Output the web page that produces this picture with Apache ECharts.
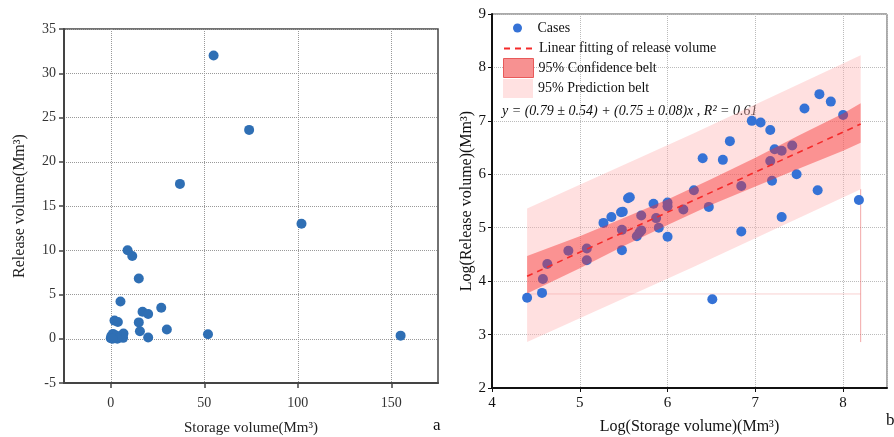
<!DOCTYPE html>
<html>
<head>
<meta charset="utf-8">
<script src="https://cdn.jsdelivr.net/npm/echarts@6/dist/echarts.min.js"></script>
<style>
  html, body { margin: 0; padding: 0; background: #fff; }
  #chart { width: 894px; height: 437px; }
</style>
</head>
<body>
<div id="chart"></div>
<script>
// Panel a: storage vs. release volume of the cases (Mm³)
const storageVolume = [55, 74, 37, 102, 9, 11.5, 15, 5.2, 27, 17, 20, 2, 3.8, 15, 30, 15.6, 52, 155, 20, 6.8, 6.6, 0, 0.3, 1.2, 2, 3, 3.5, 1];
const releaseVolume = [32.0, 23.6, 17.5, 13.0, 10.0, 9.35, 6.8, 4.2, 3.5, 3.05, 2.8, 2.05, 1.9, 1.85, 1.05, 0.85, 0.5, 0.35, 0.15, 0.6, 0.1, 0.05, 0.3, 0.55, 0.15, 0.35, 0.0, 0.0];
const storageTicks = [0, 50, 100, 150];

// Panel b: log-transformed volumes
const logStorage = [4.40, 4.57, 4.58, 4.63, 4.87, 5.08, 5.08, 5.27, 5.36, 5.47, 5.49, 5.55, 5.57, 5.48, 5.48, 5.70, 5.65, 5.68, 5.70, 5.84,
                    5.87, 5.90, 6.00, 6.00, 6.00, 6.18, 6.30, 6.40, 6.47, 6.51, 6.63, 6.71, 6.84, 6.84, 6.96, 7.06, 7.17, 7.17, 7.19, 7.22,
                    7.30, 7.30, 7.42, 7.47, 7.56, 7.71, 7.73, 7.86, 8.00, 8.18];
const logRelease = [3.69, 3.78, 4.04, 4.32, 4.57, 4.61, 4.39, 5.09, 5.20, 5.29, 5.30, 5.55, 5.57, 4.96, 4.58, 5.23, 4.84, 4.91, 4.95, 5.45,
                    5.18, 5.00, 5.47, 5.40, 4.83, 5.34, 5.70, 6.30, 5.39, 3.66, 6.27, 6.62, 5.78, 4.93, 7.00, 6.97, 6.83, 6.25, 5.88, 6.47,
                    6.44, 5.20, 6.54, 6.00, 7.23, 5.70, 7.50, 7.36, 7.11, 5.52];

// Linear fit y = 0.79 + 0.75x over the data range
const fitX = [4.4, 8.2];
const fitY = [4.09, 6.94];

// 95% confidence belt
const confX = [4.4, 5.0, 5.5, 6.0, 6.5, 7.0, 7.5, 8.0, 8.2];
const confUpper = [4.47, 4.84, 5.18, 5.53, 5.91, 6.31, 6.73, 7.14, 7.33];
const confLower = [3.77, 4.24, 4.66, 5.05, 5.43, 5.77, 6.11, 6.44, 6.59];

// 95% prediction belt
const predX = [4.4, 6.3, 8.2];
const predUpper = [5.36, 6.77, 8.23];
const predLower = [2.86, 4.27, 5.72];

// Thin outline strokes left around the belts
const edgeH = [[4.4, 3.76], [8.2, 3.76]];
const edgeV = [[8.2, 2.86], [8.2, 5.72]];

const SERIF = '"Liberation Serif", "Times New Roman", serif';

function pairs(xs, ys) { return xs.map((x, i) => [x, ys[i]]); }

function belt(xs, up, lo, fill) {
  return function (params, api) {
    const pts = [];
    for (let i = 0; i < xs.length; i++) pts.push(api.coord([xs[i], up[i]]));
    for (let i = xs.length - 1; i >= 0; i--) pts.push(api.coord([xs[i], lo[i]]));
    return { type: 'polygon', shape: { points: pts }, style: { fill: fill } };
  };
}

const chart = echarts.init(document.getElementById('chart'), null, { renderer: 'canvas' });

const axisLabelA = { fontFamily: SERIF, fontSize: 14, color: '#333' };
const axisLabelB = { fontFamily: SERIF, fontSize: 15, color: '#111' };

const legendBase = {
  orient: 'vertical',
  left: 503,
  padding: 0,
  itemWidth: 30,
  itemHeight: 19,
  itemGap: 4,
  textStyle: { fontFamily: SERIF, fontSize: 14, color: '#111' },
  selectedMode: false
};

chart.setOption({
  animation: false,
  backgroundColor: '#fff',
  grid: [
    { left: 64, top: 29, width: 374, height: 354, outerBoundsMode: 'none',
      show: true, borderColor: '#444', borderWidth: 1.5 },
    { left: 492, top: 14, width: 395, height: 374, outerBoundsMode: 'none',
      show: true, borderColor: '#555', borderWidth: 1 }
  ],
  xAxis: [
    {
      gridIndex: 0, type: 'value', min: -25, max: 175,
      name: 'Storage volume(Mm³)', nameLocation: 'middle', nameGap: 38,
      nameTextStyle: { fontFamily: SERIF, fontSize: 15, color: '#222' },
      axisLine: { onZero: false, lineStyle: { color: '#444', width: 2 } },
      axisTick: { customValues: storageTicks, length: 5, lineStyle: { color: '#444', width: 1.5 } },
      axisLabel: Object.assign({ customValues: storageTicks, margin: 13 }, axisLabelA),
      splitLine: { show: true, lineStyle: { type: 'dotted', color: '#999', width: 1 } }
    },
    {
      gridIndex: 1, type: 'value', min: 4, max: 8.5, interval: 1,
      name: 'Log(Storage volume)(Mm³)', nameLocation: 'middle', nameGap: 31,
      nameTextStyle: { fontFamily: SERIF, fontSize: 16, color: '#111' },
      axisLine: { onZero: false, lineStyle: { color: '#111', width: 2 } },
      axisTick: { length: 4, lineStyle: { color: '#111' } },
      axisLabel: Object.assign({ margin: 8, showMaxLabel: false }, axisLabelB),
      splitLine: { show: true, lineStyle: { type: 'dotted', color: '#bbb', width: 1 } }
    }
  ],
  yAxis: [
    {
      gridIndex: 0, type: 'value', min: -5, max: 35, interval: 5,
      name: 'Release volume(Mm³)', nameLocation: 'middle', nameGap: 36,
      nameTextStyle: { fontFamily: SERIF, fontSize: 16, color: '#222' },
      axisLine: { onZero: false, lineStyle: { color: '#444', width: 2 } },
      axisTick: { length: 5, lineStyle: { color: '#444', width: 1.5 } },
      axisLabel: Object.assign({ margin: 8 }, axisLabelA),
      splitLine: { show: true, lineStyle: { type: 'dotted', color: '#999', width: 1 } }
    },
    {
      gridIndex: 1, type: 'value', min: 2, max: 9, interval: 1,
      name: 'Log(Release volume)(Mm³)', nameLocation: 'middle', nameGap: 14,
      nameTextStyle: { fontFamily: SERIF, fontSize: 16, color: '#111' },
      axisLine: { onZero: false, lineStyle: { color: '#111', width: 2 } },
      axisTick: { length: 4, lineStyle: { color: '#111' } },
      axisLabel: Object.assign({ margin: 6 }, axisLabelB),
      splitLine: { show: true, lineStyle: { type: 'dotted', color: '#bbb', width: 1 } }
    }
  ],
  legend: [
    Object.assign({}, legendBase, { left: 513, top: 21, itemHeight: 9, data: [{ name: 'Cases', icon: 'circle' }] }),
    Object.assign({}, legendBase, { top: 41, data: [{ name: 'Linear fitting of release volume',
      itemStyle: { opacity: 0, color: 'transparent', borderWidth: 0 } }] }),
    Object.assign({}, legendBase, { top: 58, data: [{ name: '95% Confidence belt', icon: 'rect',
      itemStyle: { color: '#f79191', borderColor: '#e85a5a', borderWidth: 1 } }] }),
    Object.assign({}, legendBase, { top: 79, data: [{ name: '95% Prediction belt', icon: 'rect',
      itemStyle: { color: '#ffe1e1', borderWidth: 0 } }] })
  ],
  graphic: [
    { type: 'text', left: 502, top: 104, style: {
        text: 'y = (0.79 ± 0.54) + (0.75 ± 0.08)x , R² = 0.61',
        font: 'italic 14px ' + SERIF, fill: '#111' } },
    { type: 'text', left: 433, top: 417, style: { text: 'a', font: '17px ' + SERIF, fill: '#111' } },
    { type: 'text', left: 886, top: 412, style: { text: 'b', font: '17px ' + SERIF, fill: '#111' } }
  ],
  series: [
    {
      name: 'Cases A', type: 'scatter', xAxisIndex: 0, yAxisIndex: 0,
      data: pairs(storageVolume, releaseVolume),
      symbolSize: 10, itemStyle: { color: '#2f6fb4', opacity: 1 }, z: 2
    },
    {
      name: '95% Prediction belt', type: 'custom', xAxisIndex: 1, yAxisIndex: 1,
      data: [[predX[0], predUpper[0]]], renderItem: belt(predX, predUpper, predLower, 'rgba(255,178,178,0.4)'),
      itemStyle: { color: '#ffe1e1' }, clip: true, silent: true, z: 1
    },
    {
      name: 'Belt edges', type: 'line', xAxisIndex: 1, yAxisIndex: 1, data: edgeH,
      symbol: 'none', lineStyle: { color: 'rgba(240,150,150,0.45)', width: 1 }, silent: true, z: 1
    },
    {
      name: 'Belt edges', type: 'line', xAxisIndex: 1, yAxisIndex: 1, data: edgeV,
      symbol: 'none', lineStyle: { color: 'rgba(235,110,110,0.6)', width: 1 }, silent: true, z: 1
    },
    {
      name: 'Cases', type: 'scatter', xAxisIndex: 1, yAxisIndex: 1,
      data: pairs(logStorage, logRelease),
      symbolSize: 10, itemStyle: { color: '#3572d6', opacity: 1 }, z: 2
    },
    {
      name: '95% Confidence belt', type: 'custom', xAxisIndex: 1, yAxisIndex: 1,
      data: [[confX[0], confUpper[0]]], renderItem: belt(confX, confUpper, confLower, 'rgba(245,45,45,0.43)'),
      itemStyle: { color: '#f79191' }, clip: true, silent: true, z: 3
    },
    {
      name: 'Linear fitting of release volume', type: 'line', xAxisIndex: 1, yAxisIndex: 1,
      data: pairs(fitX, fitY), symbol: 'none',
      lineStyle: { color: '#f52a2a', width: 1.6, type: [6, 5] }, itemStyle: { color: '#f52a2a' }, z: 4
    }
  ]
});
</script>
</body>
</html>
